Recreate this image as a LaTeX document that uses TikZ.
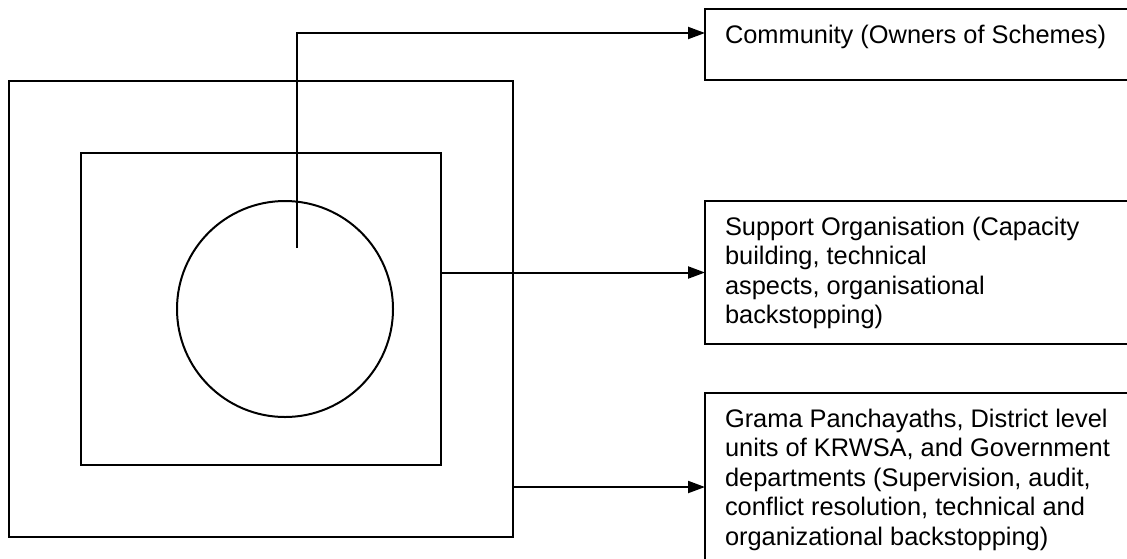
\documentclass[tikz,border=0pt]{standalone}
\usepackage{fontspec}
\usepackage{tikz}
\usetikzlibrary{arrows.meta}
\newfontfamily\boxfont{Liberation Sans}
\tikzset{
	frame/.style={draw, line width=1pt, inner sep=0pt, outer sep=0pt},
	infobox/.style={draw, line width=1pt, anchor=north west, inner xsep=10pt, inner ysep=6.7pt, outer sep=0pt, align=left, font={\boxfont\fontsize{12.7pt}{14.75pt}\selectfont}},
	link/.style={line width=1pt, -{Triangle[length=8.5pt,width=6pt]}}
}

\begin{document}
\begin{tikzpicture}[x=0.5pt, y=-0.5pt]
		%%%%% START %%%%%
		\useasboundingbox (0, 0) rectangle (1127, 558);
		\clip (0, 0) rectangle (1127, 558);
		
		\node[frame, minimum width=252pt, minimum height=228pt] (outer) at (261, 309) {};
		\node[frame, minimum width=180pt, minimum height=156pt] (inner) at (261, 309) {};
		\node[frame, circle, minimum size=108pt] (core) at (285, 309) {};
		\coordinate (hub) at (297, 248);
		
		\node[infobox] (community) at (705, 9) {\parbox[t][22.1pt][t]{205pt}{\strut Community (Owners of Schemes)}};
		\node[infobox] (support) at (705, 201) {\parbox[t][58.1pt][t]{205pt}{\strut Support Organisation (Capacity\\
			building, technical\\
			aspects, organisational\\
			backstopping)}};
		\node[infobox] (govt) at (705, 393) {\parbox[t][80.6pt][t]{205pt}{\strut Grama Panchayaths, District level\\
			units of KRWSA, and Government\\
			departments (Supervision, audit,\\
			conflict resolution, technical and\\
			organizational backstopping)}};
		
		\draw[link] (hub) -- (hub |- 0, 33) -- (community.west |- 0, 33);
		\draw[link] (inner.east |- support.west) -- (support.west);
		\draw[link] (outer.east |- govt.west) -- (govt.west);
		
		%%%%% END %%%%%
	\end{tikzpicture}
\end{document}
